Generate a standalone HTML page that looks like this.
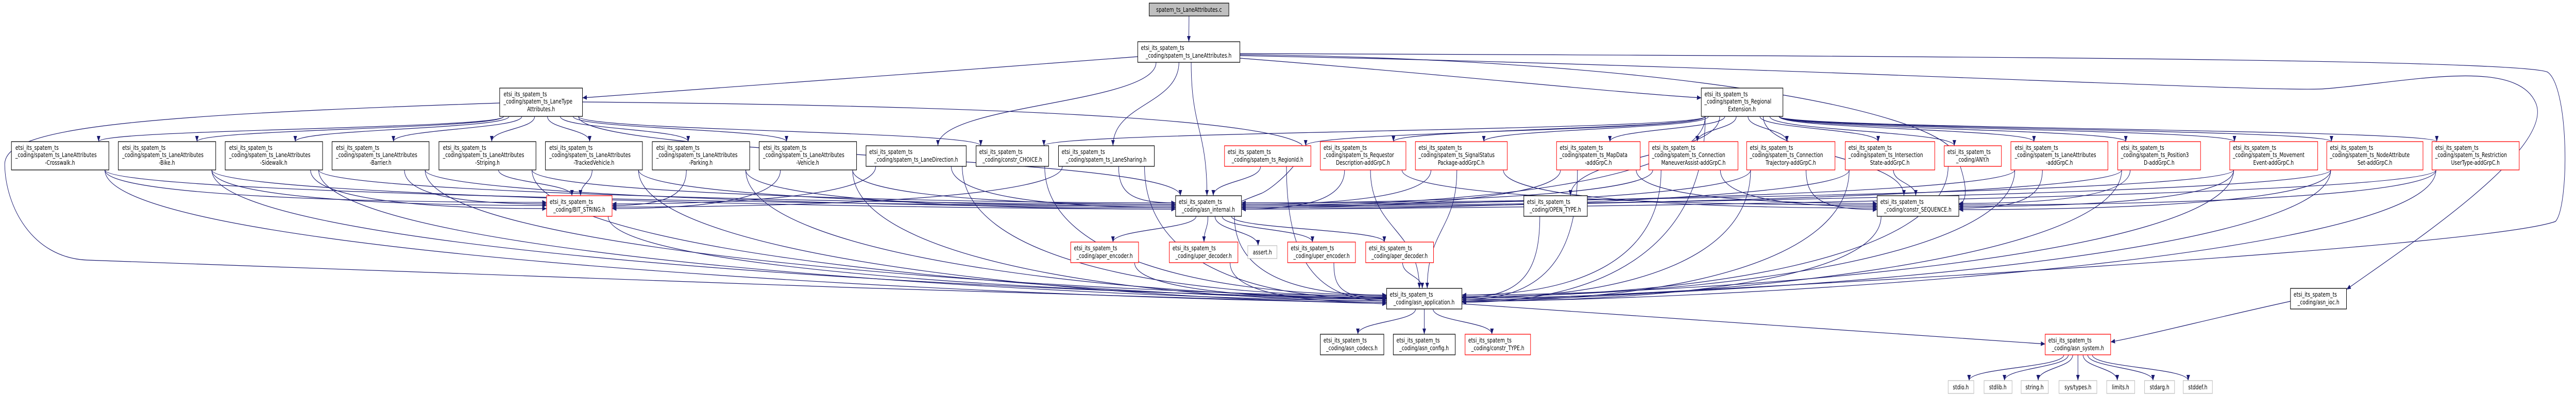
<!DOCTYPE html>
<html><head><meta charset="utf-8">
<style>
html,body{margin:0;padding:0;background:#fff;width:100vw;height:100vh;overflow:hidden;}
svg{display:block;overflow:hidden;width:100%;height:100%;}
text{font-family:"DejaVu Sans","Liberation Sans",sans-serif;font-size:12px;fill:#000;}
.node rect{fill:#fff;stroke:#000;stroke-width:1.3;}
.red rect{stroke:#ff0000;}
.gry rect{stroke:#bfbfbf;}
.cfile rect{fill:#bfbfbf;stroke:#000;}
.e{fill:none;stroke:#191970;stroke-width:1.2;}
</style></head>
<body>
<svg id="s" viewBox="0 0 6532 767" preserveAspectRatio="none" xmlns="http://www.w3.org/2000/svg">
<defs><marker id="ah" markerUnits="userSpaceOnUse" markerWidth="12" markerHeight="10" refX="11" refY="4.5" orient="auto"><path d="M0,0 L11,4.5 L0,9 z" fill="#191970"/></marker></defs>
<g id="edges"></g>
<g id="nodes">
<g class="node cfile" id="c"><rect x="2914" y="6" width="202" height="25"/><text x="3015" y="23" text-anchor="middle">spatem_ts_LaneAttributes.c</text></g>
<g class="node" id="la"><rect x="2885" y="81" width="259" height="40"/><text x="2893" y="97">etsi_its_spatem_ts</text><text x="3014" y="112" text-anchor="middle">_coding/spatem_ts_LaneAttributes.h</text></g>
<g class="node" id="lta"><rect x="1267" y="171" width="210" height="55"/><text x="1277" y="187">etsi_its_spatem_ts</text><text x="1277" y="201">_coding/spatem_ts_LaneType</text><text x="1372" y="216" text-anchor="middle">Attributes.h</text></g>
<g class="node" id="rext"><rect x="4314" y="171" width="207" height="55"/><text x="4322" y="187">etsi_its_spatem_ts</text><text x="4322" y="201">_coding/spatem_ts_Regional</text><text x="4417" y="216" text-anchor="middle">Extension.h</text></g>

<g class="node" id="cw"><rect x="29" y="275" width="247" height="55"/><text x="39" y="291">etsi_its_spatem_ts</text><text x="39" y="305">_coding/spatem_ts_LaneAttributes</text><text x="152" y="320" text-anchor="middle">-Crosswalk.h</text></g>
<g class="node" id="bike"><rect x="300" y="275" width="247" height="55"/><text x="310" y="291">etsi_its_spatem_ts</text><text x="310" y="305">_coding/spatem_ts_LaneAttributes</text><text x="423" y="320" text-anchor="middle">-Bike.h</text></g>
<g class="node" id="sw"><rect x="571" y="275" width="247" height="55"/><text x="581" y="291">etsi_its_spatem_ts</text><text x="581" y="305">_coding/spatem_ts_LaneAttributes</text><text x="694" y="320" text-anchor="middle">-Sidewalk.h</text></g>
<g class="node" id="bar"><rect x="842" y="275" width="246" height="55"/><text x="852" y="291">etsi_its_spatem_ts</text><text x="852" y="305">_coding/spatem_ts_LaneAttributes</text><text x="965" y="320" text-anchor="middle">-Barrier.h</text></g>
<g class="node" id="str"><rect x="1113" y="275" width="246" height="55"/><text x="1123" y="291">etsi_its_spatem_ts</text><text x="1123" y="305">_coding/spatem_ts_LaneAttributes</text><text x="1236" y="320" text-anchor="middle">-Striping.h</text></g>
<g class="node" id="tv"><rect x="1383" y="275" width="246" height="55"/><text x="1393" y="291">etsi_its_spatem_ts</text><text x="1393" y="305">_coding/spatem_ts_LaneAttributes</text><text x="1506" y="320" text-anchor="middle">-TrackedVehicle.h</text></g>
<g class="node" id="park"><rect x="1654" y="275" width="247" height="55"/><text x="1664" y="291">etsi_its_spatem_ts</text><text x="1664" y="305">_coding/spatem_ts_LaneAttributes</text><text x="1777" y="320" text-anchor="middle">-Parking.h</text></g>
<g class="node" id="veh"><rect x="1925" y="275" width="247" height="55"/><text x="1935" y="291">etsi_its_spatem_ts</text><text x="1935" y="305">_coding/spatem_ts_LaneAttributes</text><text x="2048" y="320" text-anchor="middle">-Vehicle.h</text></g>
<g class="node" id="ldir"><rect x="2196" y="283" width="254" height="40"/><text x="2204" y="299">etsi_its_spatem_ts</text><text x="2323" y="314" text-anchor="middle">_coding/spatem_ts_LaneDirection.h</text></g>
<g class="node" id="choice"><rect x="2475" y="283" width="184" height="40"/><text x="2483" y="299">etsi_its_spatem_ts</text><text x="2567" y="314" text-anchor="middle">_coding/constr_CHOICE.h</text></g>
<g class="node" id="lsh"><rect x="2684" y="283" width="243" height="40"/><text x="2692" y="299">etsi_its_spatem_ts</text><text x="2805" y="314" text-anchor="middle">_coding/spatem_ts_LaneSharing.h</text></g>
<g class="node red" id="rid"><rect x="3105" y="283" width="219" height="40"/><text x="3113" y="299">etsi_its_spatem_ts</text><text x="3214" y="314" text-anchor="middle">_coding/spatem_ts_RegionId.h</text></g>
<g class="node red" id="req"><rect x="3348" y="275" width="217" height="55"/><text x="3356" y="291">etsi_its_spatem_ts</text><text x="3356" y="305">_coding/spatem_ts_Requestor</text><text x="3456" y="320" text-anchor="middle">Description-addGrpC.h</text></g>
<g class="node red" id="sig"><rect x="3589" y="275" width="233" height="55"/><text x="3597" y="291">etsi_its_spatem_ts</text><text x="3597" y="305">_coding/spatem_ts_SignalStatus</text><text x="3705" y="320" text-anchor="middle">Package-addGrpC.h</text></g>
<g class="node red" id="map"><rect x="3947" y="275" width="212" height="55"/><text x="3955" y="291">etsi_its_spatem_ts</text><text x="3955" y="305">_coding/spatem_ts_MapData</text><text x="4053" y="320" text-anchor="middle">-addGrpC.h</text></g>
<g class="node red" id="cma"><rect x="4181" y="275" width="226" height="55"/><text x="4189" y="291">etsi_its_spatem_ts</text><text x="4189" y="305">_coding/spatem_ts_Connection</text><text x="4294" y="320" text-anchor="middle">ManeuverAssist-addGrpC.h</text></g>
<g class="node red" id="ctr"><rect x="4429" y="275" width="224" height="55"/><text x="4437" y="291">etsi_its_spatem_ts</text><text x="4437" y="305">_coding/spatem_ts_Connection</text><text x="4541" y="320" text-anchor="middle">Trajectory-addGrpC.h</text></g>
<g class="node red" id="ist"><rect x="4679" y="275" width="227" height="55"/><text x="4687" y="291">etsi_its_spatem_ts</text><text x="4687" y="305">_coding/spatem_ts_Intersection</text><text x="4792" y="320" text-anchor="middle">State-addGrpC.h</text></g>
<g class="node red" id="any"><rect x="4930" y="283" width="145" height="40"/><text x="4938" y="299">etsi_its_spatem_ts</text><text x="5002" y="314" text-anchor="middle">_coding/ANY.h</text></g>
<g class="node red" id="laadd"><rect x="5099" y="275" width="246" height="55"/><text x="5109" y="291">etsi_its_spatem_ts</text><text x="5109" y="305">_coding/spatem_ts_LaneAttributes</text><text x="5222" y="320" text-anchor="middle">-addGrpC.h</text></g>
<g class="node red" id="pos"><rect x="5370" y="275" width="210" height="55"/><text x="5378" y="291">etsi_its_spatem_ts</text><text x="5378" y="305">_coding/spatem_ts_Position3</text><text x="5475" y="320" text-anchor="middle">D-addGrpC.h</text></g>
<g class="node red" id="mov"><rect x="5654" y="275" width="223" height="55"/><text x="5662" y="291">etsi_its_spatem_ts</text><text x="5662" y="305">_coding/spatem_ts_Movement</text><text x="5765" y="320" text-anchor="middle">Event-addGrpC.h</text></g>
<g class="node red" id="nas"><rect x="5900" y="275" width="244" height="55"/><text x="5908" y="291">etsi_its_spatem_ts</text><text x="5908" y="305">_coding/spatem_ts_NodeAttribute</text><text x="6022" y="320" text-anchor="middle">Set-addGrpC.h</text></g>
<g class="node red" id="rut"><rect x="6167" y="275" width="221" height="55"/><text x="6175" y="291">etsi_its_spatem_ts</text><text x="6175" y="305">_coding/spatem_ts_Restriction</text><text x="6277" y="320" text-anchor="middle">UserType-addGrpC.h</text></g>

<g class="node red" id="bit"><rect x="1386" y="380" width="166" height="40"/><text x="1394" y="396">etsi_its_spatem_ts</text><text x="1469" y="411" text-anchor="middle">_coding/BIT_STRING.h</text></g>
<g class="node" id="int"><rect x="2981" y="380" width="167" height="40"/><text x="2989" y="396">etsi_its_spatem_ts</text><text x="3064" y="411" text-anchor="middle">_coding/asn_internal.h</text></g>
<g class="node" id="open"><rect x="3864" y="380" width="161" height="40"/><text x="3872" y="396">etsi_its_spatem_ts</text><text x="3944" y="411" text-anchor="middle">_coding/OPEN_TYPE.h</text></g>
<g class="node" id="seq"><rect x="4760" y="380" width="207" height="40"/><text x="4768" y="396">etsi_its_spatem_ts</text><text x="4863" y="411" text-anchor="middle">_coding/constr_SEQUENCE.h</text></g>

<g class="node red" id="aenc"><rect x="2715" y="470" width="172" height="40"/><text x="2723" y="486">etsi_its_spatem_ts</text><text x="2801" y="501" text-anchor="middle">_coding/aper_encoder.h</text></g>
<g class="node red" id="udec"><rect x="2965" y="470" width="174" height="40"/><text x="2973" y="486">etsi_its_spatem_ts</text><text x="3052" y="501" text-anchor="middle">_coding/uper_decoder.h</text></g>
<g class="node gry" id="assert"><rect x="3164" y="477" width="74" height="25"/><text x="3201" y="494" text-anchor="middle">assert.h</text></g>
<g class="node red" id="uenc"><rect x="3265" y="470" width="172" height="40"/><text x="3273" y="486">etsi_its_spatem_ts</text><text x="3351" y="501" text-anchor="middle">_coding/uper_encoder.h</text></g>
<g class="node red" id="adec"><rect x="3463" y="470" width="172" height="40"/><text x="3471" y="486">etsi_its_spatem_ts</text><text x="3549" y="501" text-anchor="middle">_coding/aper_decoder.h</text></g>

<g class="node" id="app"><rect x="3516" y="560" width="191" height="40"/><text x="3524" y="576">etsi_its_spatem_ts</text><text x="3611" y="591" text-anchor="middle">_coding/asn_application.h</text></g>
<g class="node" id="ioc"><rect x="5808" y="560" width="142" height="40"/><text x="5816" y="576">etsi_its_spatem_ts</text><text x="5879" y="591" text-anchor="middle">_coding/asn_ioc.h</text></g>

<g class="node" id="codecs"><rect x="3348" y="649" width="161" height="40"/><text x="3356" y="665">etsi_its_spatem_ts</text><text x="3428" y="680" text-anchor="middle">_coding/asn_codecs.h</text></g>
<g class="node" id="config"><rect x="3533" y="649" width="157" height="40"/><text x="3541" y="665">etsi_its_spatem_ts</text><text x="3611" y="680" text-anchor="middle">_coding/asn_config.h</text></g>
<g class="node red" id="ctype"><rect x="3715" y="649" width="166" height="40"/><text x="3723" y="665">etsi_its_spatem_ts</text><text x="3798" y="680" text-anchor="middle">_coding/constr_TYPE.h</text></g>
<g class="node red" id="sys"><rect x="5186" y="649" width="166" height="40"/><text x="5194" y="665">etsi_its_spatem_ts</text><text x="5269" y="680" text-anchor="middle">_coding/asn_system.h</text></g>

<g class="node gry" id="stdio"><rect x="4940" y="739" width="65" height="25"/><text x="4972" y="756" text-anchor="middle">stdio.h</text></g>
<g class="node gry" id="stdlib"><rect x="5031" y="739" width="71" height="25"/><text x="5066" y="756" text-anchor="middle">stdlib.h</text></g>
<g class="node gry" id="string"><rect x="5125" y="739" width="69" height="25"/><text x="5159" y="756" text-anchor="middle">string.h</text></g>
<g class="node gry" id="systypes"><rect x="5221" y="739" width="96" height="25"/><text x="5269" y="756" text-anchor="middle">sys/types.h</text></g>
<g class="node gry" id="limits"><rect x="5342" y="739" width="71" height="25"/><text x="5377" y="756" text-anchor="middle">limits.h</text></g>
<g class="node gry" id="stdarg"><rect x="5438" y="739" width="76" height="25"/><text x="5476" y="756" text-anchor="middle">stdarg.h</text></g>
<g class="node gry" id="stddef"><rect x="5536" y="739" width="74" height="25"/><text x="5573" y="756" text-anchor="middle">stddef.h</text></g>
</g>
</svg>
<script>
(function(){
var NS="http://www.w3.org/2000/svg";
var N={};
var gs=document.querySelectorAll('g.node');
for(var i=0;i<gs.length;i++){var r=gs[i].querySelector('rect');N[gs[i].id]={x:+r.getAttribute('x'),y:+r.getAttribute('y'),w:+r.getAttribute('width'),h:+r.getAttribute('height')};}
var E=document.getElementById('edges');
var cnt=0;
function P(d){var p=document.createElementNS(NS,'path');p.setAttribute('d',d);p.setAttribute('class','e');p.setAttribute('marker-end','url(#ah)');E.appendChild(p);}
function edge(a,b,forceTop){
  var s=N[a],t=N[b];cnt++;
  var scx=s.x+s.w/2,tcx=t.x+t.w/2,dx=tcx-scx;
  var sy=s.y+s.h;
  var sx=scx+Math.max(-s.w/2+10,Math.min(s.w/2-10,dx*0.12));
  var side=!forceTop&&Math.abs(dx)>t.w/2+150;
  var tx,ty,d;
  if(side){
    var sg=dx>0?1:-1;
    tx=dx>0?t.x:t.x+t.w;
    ty=t.y+t.h/2+((cnt*7)%15)-7;
    var c2x=tx-sg*Math.min(Math.abs(dx)*0.45,600);
    d='M'+sx+','+sy+' C'+sx+','+(sy+(ty-sy)*0.7)+' '+c2x+','+ty+' '+tx+','+ty;
  }else{
    tx=tcx+Math.max(-t.w/2+12,Math.min(t.w/2-12,-dx*0.08));
    ty=t.y;
    var m=(ty-sy)*0.5;
    d='M'+sx+','+sy+' C'+sx+','+(sy+m)+' '+tx+','+(ty-m)+' '+tx+','+ty;
  }
  P(d);
}
edge('c','la');
P('M2885,110 C2400,140 1700,175 1477,190');
P('M3144,113 C3600,140 4100,180 4314,190');
P('M3144,104 C4500,108 6380,112 6460,140 C6515,170 6515,400 6480,430 C6300,480 4500,560 3707,585');
P('M3144,108 C4500,128 5800,182 5900,172 C6100,160 6380,110 6430,200 C6480,290 6100,480 5950,562');
P('M3144,106 C4200,115 4900,210 4960,300 C4990,360 4990,390 4967,398');
P('M1267,200 C300,225 10,250 12,320 C14,400 80,500 220,505 C700,520 2500,570 3516,590');
P('M1477,198 C2500,205 3200,230 3300,280 C3320,300 3240,360 3200,375 C3150,390 3140,392 3148,395');
['ldir','lsh','int'].forEach(function(b){edge('la',b,true);});
['cw','bike','sw','bar','str','tv','park','veh','choice'].forEach(function(b){edge('lta',b,true);});
edge('lta','int',true);
var las=['cw','bike','sw','bar','str','tv','park','veh','ldir','lsh'];
las.forEach(function(a){edge(a,'bit');edge(a,'int');edge(a,'app');});
edge('choice','app');
['rid','req','sig','map','cma','ctr','ist','any','laadd','pos','mov','nas','rut','open','choice'].forEach(function(b){edge('rext',b,true);});
edge('rext','int');edge('rext','app');edge('rext','seq',true);
['req','sig','map','cma','ctr','ist','laadd','pos','mov','nas','rut'].forEach(function(a){edge(a,'int');edge(a,'seq');edge(a,'app');});
edge('rid','int',true);edge('rid','app');edge('any','app');
['aenc','udec','assert','uenc','adec'].forEach(function(b){edge('int',b,true);});
edge('int','app');
['aenc','udec','uenc','adec','open','seq','bit'].forEach(function(a){edge(a,'app');});
['codecs','config','ctype'].forEach(function(b){edge('app',b,true);});
P('M3707,590 C4300,620 4900,650 5186,668');
P('M5808,585 C5600,620 5450,650 5352,664');
['stdio','stdlib','string','systypes','limits','stdarg','stddef'].forEach(function(b){edge('sys',b,true);});
})();
</script>
</body></html>
